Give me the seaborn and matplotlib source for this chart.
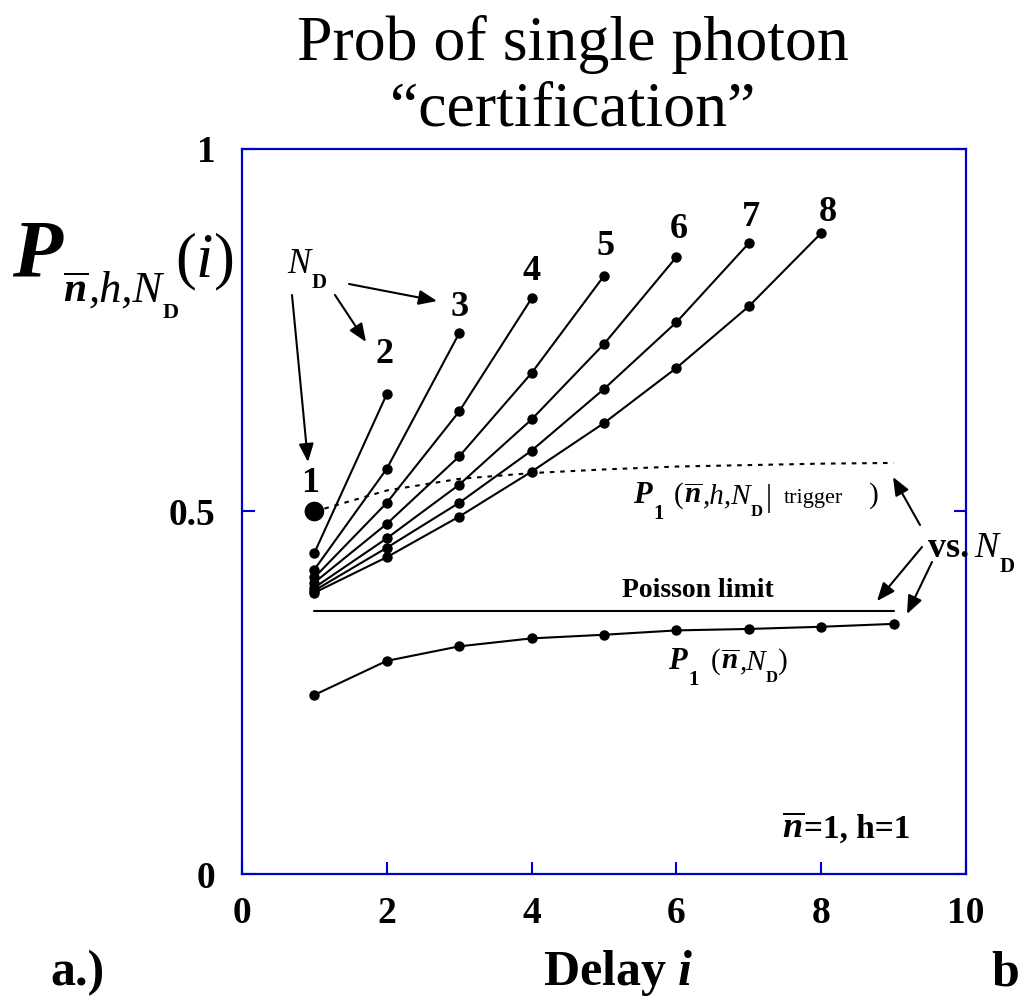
import numpy as np
import pandas as pd
import matplotlib
matplotlib.use("Agg")
import matplotlib.pyplot as plt
import seaborn as sns

# ---- data -------------------------------------------------------------
detector_counts = [2, 3, 4, 5, 6, 7, 8]
p_nd1 = [0.500]
p_nd2 = [0.443, 0.662]
p_nd3 = [0.420, 0.559, 0.746]
p_nd4 = [0.409, 0.512, 0.638, 0.794]
p_nd5 = [0.402, 0.483, 0.576, 0.691, 0.825]
p_nd6 = [0.395, 0.463, 0.537, 0.627, 0.731, 0.851]
p_nd7 = [0.391, 0.450, 0.512, 0.584, 0.669, 0.761, 0.870]
p_nd8 = [0.388, 0.437, 0.493, 0.555, 0.622, 0.698, 0.783, 0.884]

nd_axis = [1, 2, 3, 4, 5, 6, 7, 8, 9]
p_trigger = [0.500, 0.529, 0.545, 0.553, 0.558, 0.562, 0.564, 0.566, 0.567]
p_single = [0.247, 0.294, 0.314, 0.325, 0.330, 0.336, 0.338, 0.341, 0.345]
poisson_span = [1, 9]
poisson_level = [0.363, 0.363]

x_ticks = [0, 2, 4, 6, 8, 10]
x_tick_labels = ["0", "2", "4", "6", "8", "10"]
y_ticks = [0, 0.5, 1]
y_tick_labels = ["0", "0.5", "1"]

curves = [p_nd2, p_nd3, p_nd4, p_nd5, p_nd6, p_nd7, p_nd8]
df = pd.concat(
    [pd.DataFrame({"ND": nd, "i": np.arange(1, len(v) + 1), "P": v})
     for nd, v in zip(detector_counts, curves)],
    ignore_index=True,
)

# ---- style ------------------------------------------------------------
sns.set_theme(style="white")
plt.rcParams.update({
    "font.family": ["Liberation Serif", "DejaVu Serif"],
    "mathtext.fontset": "custom",
    "mathtext.rm": "Liberation Serif",
    "mathtext.it": "Liberation Serif:italic",
    "mathtext.bf": "Liberation Serif:bold",
    "mathtext.bfit": "Liberation Serif:italic:bold",
    "text.color": "black",
    "axes.labelcolor": "black",
    "xtick.labelcolor": "black",
    "ytick.labelcolor": "black",
})

W, H = 1019, 997
fig = plt.figure(figsize=(W / 100, H / 100), dpi=100)
ax = fig.add_axes([242 / W, 123 / H, 724 / W, 725 / H])
BLUE = "#0000CD"
LW = 1.5

def px(x, y):
    return (x / W, 1 - y / H)

# ---- curves -----------------------------------------------------------
sns.lineplot(data=df, x="i", y="P", units="ND", estimator=None, color="black",
             lw=LW, marker="o", markersize=7.5, markeredgewidth=0, ax=ax,
             legend=False, zorder=3)
sns.scatterplot(x=[1], y=p_nd1, s=200, color="black", edgecolor="none", ax=ax,
                zorder=4)
sns.lineplot(x=nd_axis, y=p_trigger, color="black", lw=LW, errorbar=None,
             ax=ax, zorder=2)
ax.lines[-1].set_linestyle((0, (2.2, 2.8)))
sns.lineplot(x=poisson_span, y=poisson_level, color="black", lw=LW,
             errorbar=None, ax=ax, zorder=2)
sns.lineplot(x=nd_axis, y=p_single, color="black", lw=LW, marker="o",
             markersize=7.5, markeredgewidth=0, errorbar=None, ax=ax, zorder=3)

# curve end labels (N_D values)
label_offsets = {1: (-4, 28), 2: (-2, 40), 3: (0, 26), 4: (0, 27),
                 5: (2, 29), 6: (2, 28), 7: (2, 26), 8: (7, 21)}
ends = {1: (1, p_nd1[-1])}
for nd, v in zip(detector_counts, curves):
    ends[nd] = (len(v), v[-1])
for nd, (xe, ye) in ends.items():
    dx, dy = label_offsets[nd]
    ax.annotate(str(nd), (xe, ye), xytext=(dx * 0.72, dy * 0.72),
                textcoords="offset points", ha="center", va="center",
                fontsize=26, fontweight="bold", color="black")

# ---- axes -------------------------------------------------------------
ax.set_xlim(0, 10)
ax.set_ylim(0, 1)
ax.set_xticks(x_ticks)
ax.set_xticklabels(x_tick_labels)
ax.set_yticks(y_ticks)
ax.set_yticklabels(y_tick_labels)
ax.set_xlabel("")
ax.set_ylabel("")
for sp in ax.spines.values():
    sp.set_color(BLUE)
    sp.set_linewidth(1.6)
ax.tick_params(axis="x", direction="in", length=8.5, width=1.5, color=BLUE,
               labelcolor="black", pad=16, labelsize=27, bottom=True,
               top=False)
ax.tick_params(axis="y", direction="in", length=9, width=1.5, color=BLUE,
               labelcolor="black", pad=19, labelsize=27, left=True,
               right=True)
for lab in ax.get_xticklabels() + ax.get_yticklabels():
    lab.set_fontweight("bold")

# ---- text -------------------------------------------------------------
fig.canvas.draw()
renderer = fig.canvas.get_renderer()

def rich(x, y, pieces):
    for s, size, opts in pieces:
        opts = dict(opts)
        x += opts.pop("dx", 0)
        dy = opts.pop("dy", 0)
        t = fig.text(*px(x, y + dy), s, fontsize=size, va="baseline",
                     ha="left", color="black", **opts)
        x += t.get_window_extent(renderer).width

BI = dict(fontweight="bold", fontstyle="italic")
B = dict(fontweight="bold")
I = dict(fontstyle="italic")
NBAR = r"$\overline{\mathbfit{n}}$"

fig.text(*px(573, 60), "Prob of single photon", ha="center", va="baseline",
         fontsize=46)
fig.text(*px(573, 125), "\u201ccertification\u201d", ha="center",
         va="baseline", fontsize=46)

# y label
rich(12, 277, [("P", 59, BI)])
rich(63, 302, [(NBAR, 30, {}), (",h,N", 32, I), ("D", 16, dict(B, dy=16))])
fig.text(*px(175, 277), r"$(i)$", fontsize=45, va="baseline", ha="left")

# x label and panel tags
fig.text(*px(618, 985), r"$\mathbf{Delay}\ \mathbfit{i}$", fontsize=36,
         ha="center", va="baseline")
fig.text(*px(50, 985), "a.)", fontsize=36, fontweight="bold", va="baseline")
fig.text(*px(991, 985), "b", fontsize=36, fontweight="bold", va="baseline")

# N_D pointer label
rich(287, 273, [("N", 25, I), ("D", 15, dict(B, dy=15, dx=1))])

# trigger curve label
rich(633, 503, [("P", 22, BI), ("1", 15, dict(B, dy=16, dx=2)),
                ("(", 21, dict(dx=10)), (NBAR, 21, {}), (",h,N", 21, I),
                ("D", 12, dict(B, dy=13)), ("|", 22, dict(dx=3, dy=3)),
                ("trigger", 16, dict(dx=12)), (")", 21, dict(dx=26))])

# single-photon curve label
rich(668, 669, [("P", 22, BI), ("1", 15, dict(B, dy=16, dx=2)),
                ("(", 21, dict(dx=12)), (NBAR, 21, {}), (",N", 21, I),
                ("D", 12, dict(B, dy=13)), (")", 21, {})])

fig.text(*px(622, 597), "Poisson limit", fontsize=20, fontweight="bold",
         va="baseline")
rich(782, 838, [(NBAR, 26, {}), ("=1, h=1", 24, B)])
rich(928, 557, [("vs.", 26, B), ("N", 26, dict(I, dx=5)),
                ("D", 15, dict(B, dy=15, dx=1))])

# pointer arrows
arrows = [((292, 295), (308, 462)), ((335, 295), (366, 342)),
          ((349, 284), (437, 301)), ((920, 525), (893, 477)),
          ((922, 547), (877, 601)), ((932, 562), (907, 614))]
for tail, head in arrows:
    fig.add_artist(matplotlib.patches.FancyArrowPatch(
        px(*tail), px(*head), transform=fig.transFigure,
        arrowstyle="-|>,head_length=11,head_width=4.5", lw=LW,
        color="black", shrinkA=0, shrinkB=0, mutation_scale=1))

fig.savefig("out.png", dpi=100)
